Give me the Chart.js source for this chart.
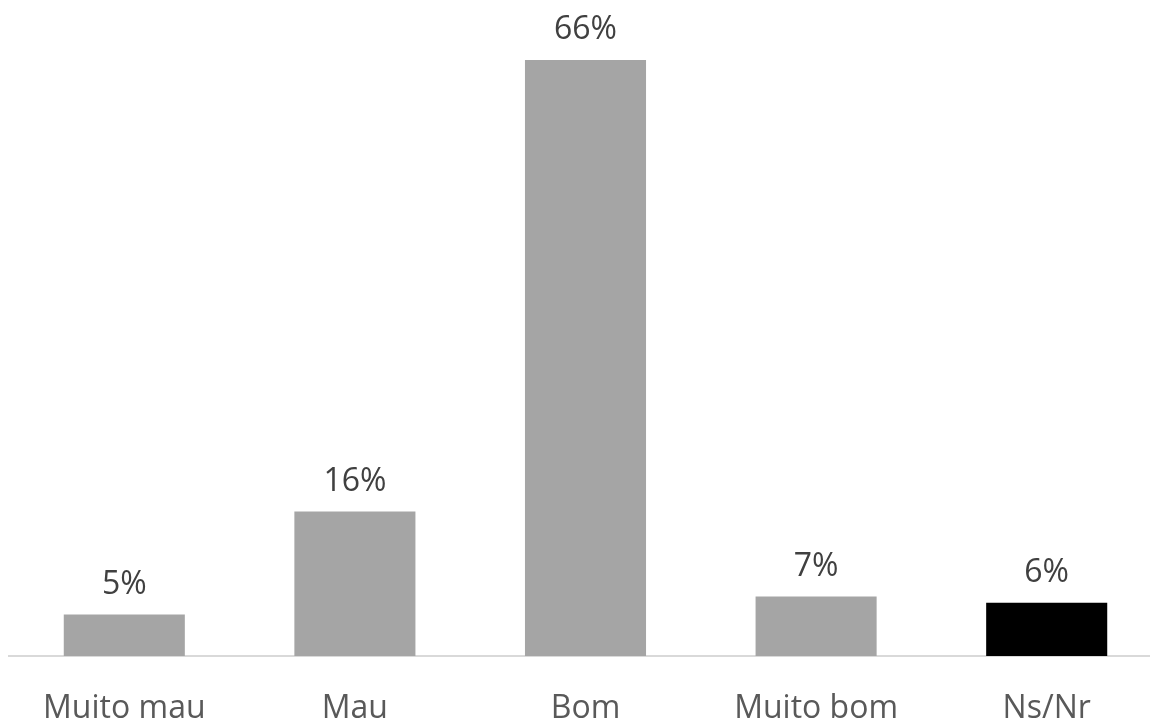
<!DOCTYPE html>
<html>
<head>
<meta charset="utf-8">
<script src="https://cdn.jsdelivr.net/npm/chart.js@4/dist/chart.umd.min.js"></script>
<style>
  html, body { margin: 0; padding: 0; background: #fff; overflow: hidden; }
  #wrap { width: 1170px; height: 721px; }
</style>
</head>
<body>
<div id="wrap"><canvas id="myChart"></canvas></div>
<script>
var categories = ['Muito mau', 'Mau', 'Bom', 'Muito bom', 'Ns/Nr'];
var shares = [4.6, 16, 66, 6.6, 5.9];
var barColors = ['#a5a5a5', '#a5a5a5', '#a5a5a5', '#a5a5a5', '#000000'];

// value labels above each bar
var valueLabels = {
  id: 'valueLabels',
  afterDatasetsDraw: function (chart) {
    var ctx = chart.ctx;
    var meta = chart.getDatasetMeta(0);
    ctx.save();
    ctx.font = '32px "Open Sans"';
    ctx.fillStyle = '#404040';
    ctx.textAlign = 'center';
    ctx.textBaseline = 'middle';
    meta.data.forEach(function (bar, i) {
      ctx.fillText(Math.round(shares[i]) + '%', bar.x, bar.y - 30);
    });
    ctx.restore();
  }
};

var ctx = document.getElementById('myChart');
Chart.defaults.font.family = '"Open Sans"';

var myChart = new Chart(ctx, {
  type: 'bar',
  data: {
    labels: categories,
    datasets: [{
      data: shares,
      backgroundColor: barColors,
      categoryPercentage: 1,
      barPercentage: 0.525
    }]
  },
  options: {
    responsive: true,
    maintainAspectRatio: false,
    animation: false,
    layout: { padding: { left: 9, right: 8, top: 24, bottom: 0 } },
    plugins: { legend: { display: false }, tooltip: { enabled: false } },
    scales: {
      x: {
        grid: { display: false },
        border: { display: true, color: '#d9d9d9', width: 2 },
        ticks: { color: '#595959', font: { size: 32 }, padding: 26, maxRotation: 0 },
        afterFit: function (scale) { scale.height = 65; }
      },
      y: {
        display: false,
        min: 0,
        max: 70
      }
    }
  },
  plugins: [valueLabels]
});
</script>
</body>
</html>
